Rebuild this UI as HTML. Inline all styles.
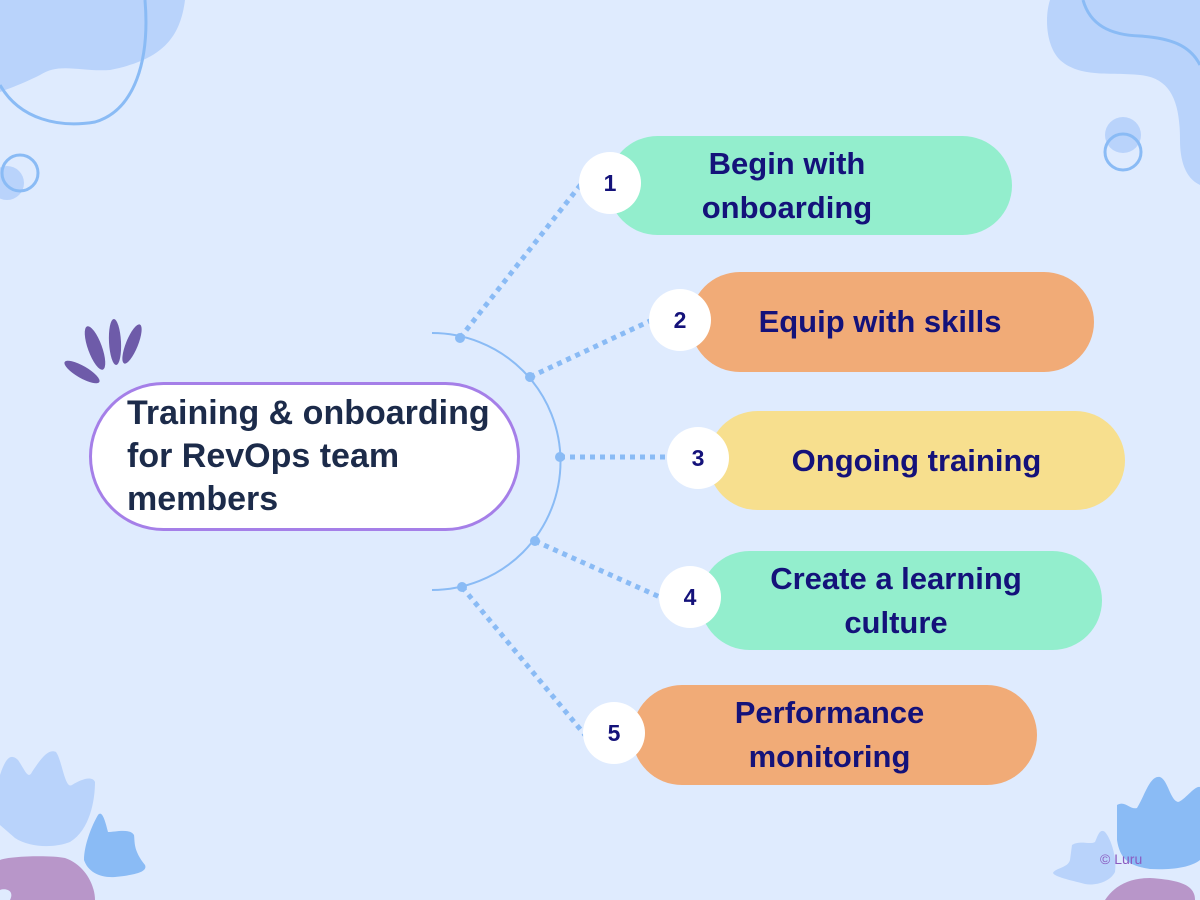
<!DOCTYPE html>
<html><head><meta charset="utf-8"><style>
html,body{margin:0;padding:0}
body{width:1200px;height:900px;background:#dfebfe;position:relative;overflow:hidden;font-family:"Liberation Sans",sans-serif}
svg{position:absolute;left:0;top:0}
.pill{position:absolute;border-radius:50px;display:flex;align-items:center;justify-content:center;text-align:center;color:#14127a;font-weight:bold;font-size:31px;line-height:44px;white-space:nowrap}
.num{position:absolute;width:62px;height:62px;border-radius:50%;background:#fff;color:#14127a;font-weight:bold;font-size:23px;display:flex;align-items:center;justify-content:center}
.center{position:absolute;left:89px;top:382px;width:425px;height:143px;border:3px solid #a57fe8;border-radius:75px;background:#fff;box-sizing:content-box}
.center div{position:absolute;left:35px;top:7px;font-size:34px;font-weight:bold;color:#1c2b4a;line-height:43px;white-space:nowrap}
</style></head><body>
<svg width="1200" height="900">
<path d="M0,0 L185,0 C180,40 160,60 110,70 C80,72 60,62 40,75 C20,85 5,90 0,92 Z" fill="#b9d3fb"/>
<path d="M0,85 C20,120 60,128 95,122 C135,110 150,60 145,0" fill="none" stroke="#8abbf5" stroke-width="3"/>
<circle cx="7" cy="183" r="17" fill="#b9d3fb"/>
<circle cx="20" cy="173" r="18" fill="none" stroke="#8abbf5" stroke-width="3"/>
<path d="M1050,0 L1200,0 L1200,185 C1185,178 1180,160 1180,140 C1180,100 1170,78 1140,75 C1110,72 1080,78 1060,60 C1045,45 1045,15 1050,0Z" fill="#b9d3fb"/>
<path d="M1083,0 C1090,25 1110,35 1140,36 C1170,38 1190,45 1200,65" fill="none" stroke="#8abbf5" stroke-width="3"/>
<circle cx="1123" cy="135" r="18" fill="#b9d3fb"/>
<circle cx="1123" cy="152" r="18" fill="none" stroke="#8abbf5" stroke-width="3"/>
<path d="M0,775 C5,760 10,752 18,760 C25,770 28,780 32,772 C40,760 48,748 56,752 C62,760 65,790 72,785 C80,780 92,775 95,782 C95,800 90,830 70,842 C55,848 30,848 15,838 L0,825Z" fill="#b9d3fb"/>
<path d="M98,815 C102,810 105,820 108,832 C115,832 130,828 134,835 C135,842 133,850 145,865 C148,872 135,875 115,877 C100,878 88,872 84,860 C84,845 92,825 98,815Z" fill="#8abbf5"/>
<path d="M0,860 C10,856 50,855 65,858 C85,865 95,885 95,900 L10,900 C15,890 5,888 0,890Z" fill="#b896c9"/>
<path d="M1117,805 C1125,800 1130,810 1137,808 C1145,795 1150,775 1160,777 C1168,780 1170,800 1178,802 C1185,800 1195,785 1200,787 L1200,860 C1190,868 1170,870 1150,869 C1130,866 1120,860 1117,840Z" fill="#8abbf5"/>
<path d="M1072,845 C1080,840 1090,845 1095,842 C1098,835 1100,828 1105,832 C1112,840 1117,860 1115,872 C1110,882 1095,886 1085,884 C1070,880 1055,877 1053,873 C1055,868 1068,868 1070,860Z" fill="#b9d3fb"/>
<path d="M1105,900 C1115,885 1130,878 1150,878 C1180,880 1195,885 1195,900Z" fill="#b896c9"/>
<g fill="#6e5ba9">
<ellipse cx="95" cy="348" rx="7" ry="23" transform="rotate(-20 95 348)"/>
<ellipse cx="115" cy="342" rx="6" ry="23" transform="rotate(-3 115 342)"/>
<ellipse cx="132" cy="344" rx="6" ry="21" transform="rotate(22 132 344)"/>
<ellipse cx="82" cy="372" rx="6" ry="20" transform="rotate(-60 82 372)"/>
</g>
<path d="M432,333 A128,128 0 0 1 432,590" fill="none" stroke="#8abbf5" stroke-width="2"/>
<g stroke="#8abbf5" stroke-width="5" stroke-dasharray="5,5" fill="none">
<line x1="460" y1="338" x2="582" y2="183"/>
<line x1="530" y1="377" x2="652" y2="320"/>
<line x1="560" y1="457" x2="670" y2="457"/>
<line x1="535" y1="541" x2="662" y2="598"/>
<line x1="462" y1="587" x2="585" y2="735"/>
</g>
<g fill="#8abbf5">
<circle cx="460" cy="338" r="5"/><circle cx="530" cy="377" r="5"/><circle cx="560" cy="457" r="5"/><circle cx="535" cy="541" r="5"/><circle cx="462" cy="587" r="5"/>
</g>
<text x="1100" y="864" font-family="Liberation Sans, sans-serif" font-size="14" fill="#8a5bc0">© Luru</text>
</svg>
<div class="center"><div>Training &amp; onboarding<br>for RevOps team<br>members</div></div>
<div class="pill" style="left:608px;top:136px;width:404px;height:99px;background:#93eecd"><span style="margin-left:-46px">Begin with<br>onboarding</span></div>
<div class="num" style="left:579px;top:152px">1</div>
<div class="pill" style="left:690px;top:272px;width:404px;height:100px;background:#f1ab77"><span style="margin-left:-24px">Equip with skills</span></div>
<div class="num" style="left:649px;top:289px">2</div>
<div class="pill" style="left:708px;top:411px;width:417px;height:99px;background:#f7df8e"><span style="margin-left:-0px">Ongoing training</span></div>
<div class="num" style="left:667px;top:427px">3</div>
<div class="pill" style="left:700px;top:551px;width:402px;height:99px;background:#93eecd"><span style="margin-left:-10px">Create a learning<br>culture</span></div>
<div class="num" style="left:659px;top:566px">4</div>
<div class="pill" style="left:632px;top:685px;width:405px;height:100px;background:#f1ab77"><span style="margin-left:-10px">Performance<br>monitoring</span></div>
<div class="num" style="left:583px;top:702px">5</div>
</body></html>
